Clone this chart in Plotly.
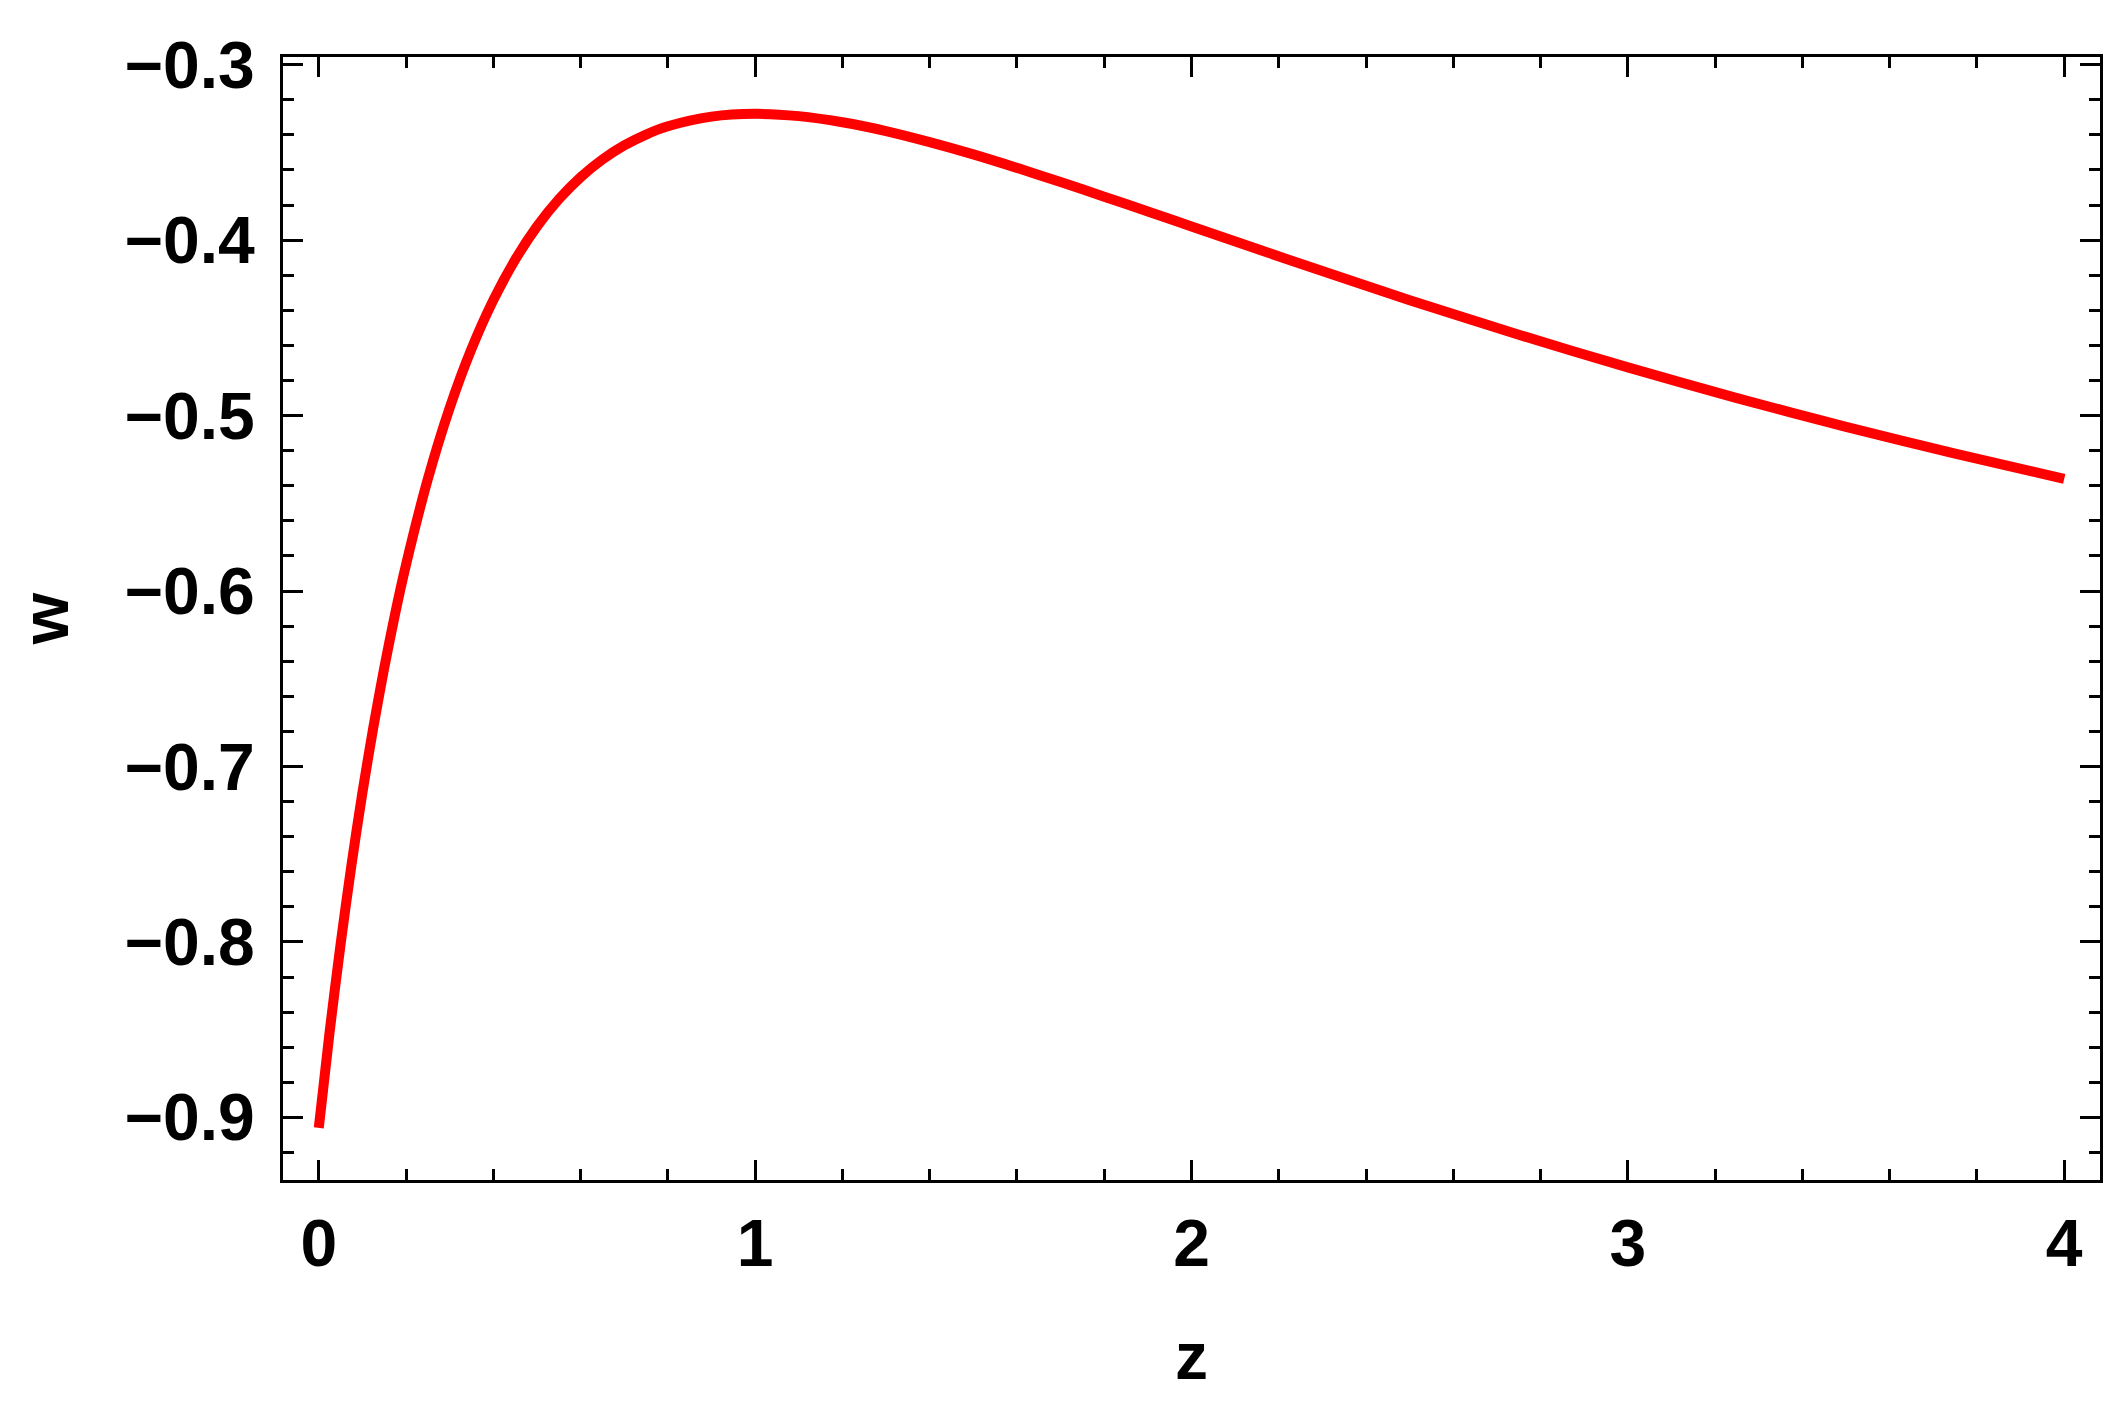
import plotly.graph_objects as go

# Values
z_vals = [0.0, 0.025, 0.05, 0.075, 0.1, 0.125, 0.15, 0.175, 0.2, 0.25, 0.3, 0.35, 0.4,
          0.45, 0.5, 0.55, 0.6, 0.65, 0.7, 0.75, 0.8, 0.9, 1.0, 1.1, 1.2, 1.3, 1.4,
          1.5, 1.6, 1.7, 1.8, 1.9, 2.0, 2.25, 2.5, 2.75, 3.0, 3.25, 3.5, 3.75, 4.0]
w_vals = [-0.9060, -0.8510, -0.8012, -0.7560, -0.7149, -0.6777, -0.6438, -0.6129,
          -0.5849, -0.5361, -0.4956, -0.4620, -0.4342, -0.4112, -0.3922, -0.3767,
          -0.3641, -0.3540, -0.3460, -0.3398, -0.3351, -0.3296, -0.3280, -0.3293,
          -0.3328, -0.3378, -0.3441, -0.3511, -0.3588, -0.3669, -0.3752, -0.3837,
          -0.3922, -0.4135, -0.4342, -0.4539, -0.4725, -0.4900, -0.5064, -0.5217,
          -0.5361]

x_tick_vals = [0, 1, 2, 3, 4]
x_tick_text = ["0", "1", "2", "3", "4"]
y_tick_vals = [-0.3, -0.4, -0.5, -0.6, -0.7, -0.8, -0.9]
y_tick_text = ["\u22120.3", "\u22120.4", "\u22120.5", "\u22120.6", "\u22120.7", "\u22120.8", "\u22120.9"]

x_label = "z"
y_label = "w"

FONT = "Liberation Sans, Arial, sans-serif"

fig = go.Figure()
fig.add_trace(go.Scatter(
    x=z_vals, y=w_vals, mode="lines",
    line=dict(color="#FF0000", width=10, shape="spline", smoothing=0.8),
    showlegend=False, hoverinfo="skip",
))

axis_common = dict(
    showline=True, linecolor="black", linewidth=3, mirror="allticks",
    ticks="inside", ticklen=20, tickwidth=3, tickcolor="black",
    showgrid=False, zeroline=False,
    tickfont=dict(family=FONT, size=66, color="black", weight="bold"),
    title_font=dict(family=FONT, size=66, color="black", weight="bold"),
)

fig.update_xaxes(
    range=[-0.082, 4.082], tickvals=x_tick_vals, ticktext=x_tick_text,
    minor=dict(ticks="inside", ticklen=11, tickwidth=3, tickcolor="black", dtick=0.2, tick0=0),
    ticklabelstandoff=4,
    title=dict(text=x_label, standoff=54),
    **axis_common,
)
fig.update_yaxes(
    range=[-0.9357, -0.2956], tickvals=y_tick_vals, ticktext=y_tick_text,
    minor=dict(ticks="inside", ticklen=11, tickwidth=3, tickcolor="black", dtick=0.02, tick0=-0.3),
    ticklabelstandoff=12,
    title=dict(text=y_label, standoff=40),
    **axis_common,
)

fig.update_layout(
    width=2125, height=1406,
    margin=dict(l=275, r=33, t=49, b=234, autoexpand=False),
    paper_bgcolor="white", plot_bgcolor="white",
    font=dict(family=FONT, color="black"),
)

fig.write_html("out.html")
